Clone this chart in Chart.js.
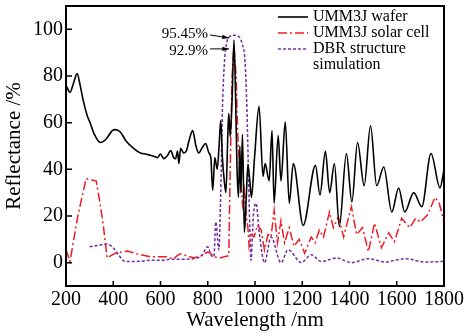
<!DOCTYPE html>
<html>
<head>
<meta charset="utf-8">
<script src="https://cdn.jsdelivr.net/npm/chart.js@4/dist/chart.umd.min.js"></script>
<style>
  html, body { margin: 0; padding: 0; background: #fff; }
</style>
</head>
<body>
<canvas id="reflectance" width="465" height="335"></canvas>
<script>
// wavelength (nm) / reflectance (%)
const waferWl = [200, 217, 232, 247, 260, 272, 290, 302, 320, 345, 370, 395, 408, 430, 455, 486, 515, 540, 557, 575, 587, 600, 614, 630, 643, 656, 664, 672, 678, 685, 698, 710, 720, 736, 750, 762, 775, 791, 805, 813, 821, 830, 840, 848, 855, 862, 870, 877, 885, 889, 895, 903, 911, 918, 924, 930, 936, 940, 947, 955, 963, 970, 978, 985, 998, 1017, 1034, 1043, 1060, 1072, 1081, 1098, 1110, 1128, 1145, 1162, 1204, 1256, 1275, 1298, 1316, 1336, 1357, 1387, 1410, 1434, 1462, 1489, 1515, 1545, 1579, 1608, 1634, 1672, 1706, 1745, 1783, 1800];
const waferR = [76, 73, 77, 81, 76, 70, 63, 60, 55, 51.5, 53, 56.5, 57, 56, 52, 49, 47, 46.5, 46, 45.5, 45, 46.5, 44.6, 46, 48, 45, 44.6, 47.8, 42.5, 49, 47, 48, 52, 56.6, 50, 47, 49, 51, 47, 45, 31, 45, 40, 50, 61, 45, 35, 30, 55, 64, 54, 70, 95.45, 70, 40, 28, 50, 30, 55, 13, 28, 42, 35, 28, 45, 67, 37, 42.5, 35, 56.6, 25.5, 54.5, 35, 60.4, 25.5, 42.5, 16, 41.7, 29, 47.7, 30, 42.5, 15.5, 46.8, 26, 51.5, 33, 58.7, 33, 41, 21.7, 32, 21.7, 30, 24, 46.8, 32, 40];

const cellWl = [200, 217, 250, 285, 328, 345, 359, 374, 390, 408, 430, 460, 500, 557, 600, 630, 656, 670, 685, 710, 741, 770, 800, 812, 826, 850, 870, 889, 895, 903, 911, 920, 927, 935, 940, 947, 955, 963, 970, 975, 985, 996, 1010, 1026, 1040, 1055, 1068, 1081, 1095, 1110, 1125, 1145, 1165, 1187, 1210, 1238, 1255, 1272, 1290, 1315, 1332, 1353, 1375, 1408, 1430, 1455, 1480, 1506, 1535, 1566, 1590, 1621, 1655, 1680, 1700, 1730, 1762, 1780, 1800];
const cellR = [5.5, 0.5, 20, 36, 35, 25, 15, 2, 3, 4, 4.5, 5, 3.8, 2.5, 2.5, 2.5, 1.5, 3, 3.8, 3, 2, 3, 4.5, 4, 2.5, 2, 2.5, 3, 40, 80, 92.9, 80, 55, 40, 34, 25, 31, 20, 15, 7, 12, 11, 16, 14, 5.5, 12, 11, 22.5, 8.5, 18, 8.5, 15, 7, 10, 4, 11, 8.5, 14, 11, 21.7, 15, 19.6, 11, 24, 12, 15, 4.7, 17, 6.4, 12.8, 9, 19, 15, 19, 17.4, 20.4, 28, 25.5, 17.4];

const dbrWl = [300, 340, 374, 400, 425, 451, 500, 557, 600, 650, 700, 770, 800, 815, 826, 834, 847, 855, 862, 870, 880, 892, 910, 930, 945, 958, 966, 972, 978, 983, 993, 1004, 1018, 1040, 1068, 1110, 1140, 1196, 1238, 1280, 1345, 1408, 1480, 1550, 1636, 1720, 1800];
const dbrR = [6.8, 7.5, 8, 6.4, 3, 0.5, 0.5, 1, 1, 1.5, 1.5, 2.5, 6.8, 3, 2.5, 17.4, 5.5, 30, 65, 85, 94, 96.8, 97.5, 97, 94, 86, 65, 40, 15, 1, 20, 25.5, 13, 0, 11, 0, 5.5, 0, 3.4, 0.5, 2, 0, 1.7, 0.3, 1.7, 0.3, 0.5];

const xTicks = [200, 400, 600, 800, 1000, 1200, 1400, 1600, 1800];
const yTicks = [0, 20, 40, 60, 80, 100];

const toPoints = (wl, r) => wl.map((v, i) => ({ x: v, y: r[i] }));

Chart.defaults.font.family = "'Liberation Serif', 'DejaVu Serif', serif";
Chart.defaults.color = "#000";

function arrow(ctx, x0, y0, x1, y1) {
  ctx.beginPath();
  ctx.moveTo(x0, y0);
  ctx.lineTo(x1, y1);
  ctx.stroke();
  const ang = Math.atan2(y1 - y0, x1 - x0);
  ctx.beginPath();
  ctx.moveTo(x1, y1);
  ctx.lineTo(x1 - 7 * Math.cos(ang - 0.3), y1 - 7 * Math.sin(ang - 0.3));
  ctx.lineTo(x1 - 7 * Math.cos(ang + 0.3), y1 - 7 * Math.sin(ang + 0.3));
  ctx.closePath();
  ctx.fill();
}

// frame, inward ticks, legend and peak labels
const decorations = {
  id: "decorations",
  afterDatasetsDraw(chart) {
    const { ctx, chartArea: a, scales: { x, y } } = chart;
    ctx.save();
    ctx.strokeStyle = "#000";
    ctx.fillStyle = "#000";

    ctx.lineWidth = 1.5;
    ctx.beginPath();
    xTicks.forEach(v => {
      const px = x.getPixelForValue(v);
      ctx.moveTo(px, a.bottom);
      ctx.lineTo(px, a.bottom - 5);
    });
    yTicks.forEach(v => {
      const py = y.getPixelForValue(v);
      ctx.moveTo(a.left, py);
      ctx.lineTo(a.left + 6, py);
    });
    ctx.stroke();

    ctx.lineWidth = 2;
    ctx.strokeRect(a.left, a.top, a.right - a.left, a.bottom - a.top);

    // legend
    ctx.font = "16px 'Liberation Serif', serif";
    ctx.textBaseline = "middle";
    ctx.textAlign = "left";
    let row = a.top + 11;
    chart.data.datasets.forEach(ds => {
      ctx.save();
      ctx.strokeStyle = ds.borderColor;
      ctx.lineWidth = ds.borderWidth;
      ctx.setLineDash(ds.borderDash || []);
      ctx.beginPath();
      ctx.moveTo(a.right - 166, row);
      ctx.lineTo(a.right - 136, row);
      ctx.stroke();
      ctx.restore();
      ds.label.split("\n").forEach(line => {
        ctx.fillText(line, a.right - 131, row);
        row += 16;
      });
    });

    // peak labels
    ctx.font = "15px 'Liberation Serif', serif";
    ctx.textAlign = "right";
    ctx.lineWidth = 1;
    const waferPeak = Math.max(...waferR);
    const cellPeak = Math.max(...cellR);
    const wx = x.getPixelForValue(waferWl[waferR.indexOf(waferPeak)]);
    const wy = y.getPixelForValue(waferPeak);
    ctx.fillText(waferPeak + "%", wx - 26, wy - 6);
    arrow(ctx, wx - 24, wy - 5, wx - 5, wy - 2);
    const cx = x.getPixelForValue(cellWl[cellR.indexOf(cellPeak)]);
    const cy = y.getPixelForValue(cellPeak);
    ctx.fillText(cellPeak + "%", cx - 26, cy + 5);
    arrow(ctx, cx - 24, cy + 3, cx - 5, cy + 3);

    ctx.restore();
  }
};

const ctx = document.getElementById("reflectance");

new Chart(ctx, {
  type: "line",
  data: {
    datasets: [
      {
        label: "UMM3J wafer",
        data: toPoints(waferWl, waferR),
        borderColor: "#000000",
        borderWidth: 1.6,
        cubicInterpolationMode: "monotone",
        pointRadius: 0,
      },
      {
        label: "UMM3J solar cell",
        data: toPoints(cellWl, cellR),
        borderColor: "#ee1c25",
        borderWidth: 1.5,
        borderDash: [9, 3, 2, 3],
        tension: 0,
        pointRadius: 0,
      },
      {
        label: "DBR structure\nsimulation",
        data: toPoints(dbrWl, dbrR),
        borderColor: "#7030a0",
        borderWidth: 1.5,
        borderDash: [3, 2],
        cubicInterpolationMode: "monotone",
        pointRadius: 0,
      },
    ],
  },
  options: {
    responsive: false,
    animation: false,
    layout: { padding: { left: 0, right: 21, top: 6, bottom: 0 } },
    plugins: {
      legend: { display: false },
      tooltip: { enabled: false },
    },
    scales: {
      x: {
        type: "linear",
        min: 200,
        max: 1800,
        afterBuildTicks: s => { s.ticks = xTicks.map(v => ({ value: v })); },
        afterFit: s => {
          s.height = 49;
          s.paddingLeft = 0;
          s.paddingRight = 0;
        },
        grid: { display: false, drawTicks: false },
        border: { display: false },
        ticks: {
          padding: 2,
          maxRotation: 0,
          autoSkip: false,
          font: { size: 20 },
          callback: v => String(v),
        },
        title: {
          display: true,
          text: "Wavelength /nm",
          font: { size: 21 },
          padding: { top: 0, bottom: 2 },
        },
      },
      y: {
        min: -10,
        max: 110,
        afterBuildTicks: s => { s.ticks = yTicks.map(v => ({ value: v })); },
        afterFit: s => {
          s.width = 66;
          s.paddingTop = 0;
          s.paddingBottom = 0;
        },
        grid: { display: false, drawTicks: false },
        border: { display: false },
        ticks: { padding: 3, autoSkip: false, font: { size: 20 }, callback: v => String(v) },
        title: {
          display: true,
          text: "Reflectance /%",
          font: { size: 21 },
          padding: { top: 2, bottom: 0 },
        },
      },
    },
  },
  plugins: [decorations],
});
</script>
</body>
</html>
